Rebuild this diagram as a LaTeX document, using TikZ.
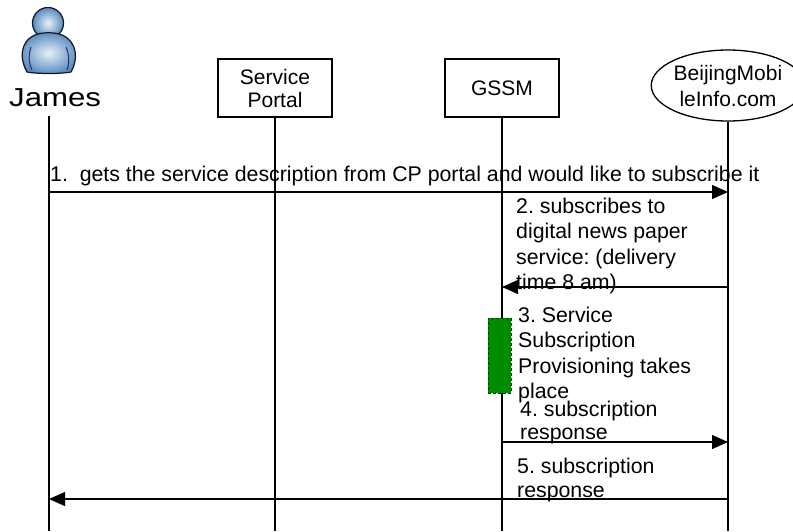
\documentclass[tikz,border=0pt]{standalone}
\usepackage{fontspec}
\setmainfont{Liberation Sans}
\usetikzlibrary{arrows.meta,shapes.geometric}
\frenchspacing
\definecolor{pblue}{RGB}{88,140,192}
\definecolor{phigh}{RGB}{232,240,245}
\definecolor{pline}{RGB}{20,20,40}
\definecolor{parm}{RGB}{50,40,110}
\definecolor{actgreen}{RGB}{0,140,0}
\definecolor{actedge}{RGB}{0,70,0}
\tikzset{
  life/.style={line width=1.3pt},
  msg/.style={line width=1.3pt,-{Triangle[length=16pt,width=14pt]}},
  lbl/.style={font=\fontsize{21.3}{25}\selectfont,anchor=base west,inner sep=0pt},
  actorbox/.style={draw,line width=1.3pt,minimum width=114pt,minimum height=58pt,align=center,inner sep=0pt,font=\fontsize{21}{23}\selectfont},
  actorell/.style={draw,ellipse,line width=1.3pt,minimum width=152pt,minimum height=71pt,align=center,inner sep=0pt,font=\fontsize{21}{26}\selectfont},
  person/.style={draw=pline,line width=1.2pt,inner color=phigh,outer color=pblue},
  activation/.style={draw=actedge,fill=actgreen,dash pattern=on 3pt off 2pt,line width=1pt,minimum width=23pt,minimum height=75pt,inner sep=0pt},
}
\begin{document}
\begin{tikzpicture}[x=1pt,y=-1pt]
\useasboundingbox (0,0) rectangle (793,531);
\clip (0,0) rectangle (793,531);
% person icon
\shadedraw[person] (48,23) circle[radius=15.5];
\shadedraw[person] (27,72) .. controls (20,60) and (19,42) .. (35,35)
  .. controls (42,32) and (55,32) .. (62,35)
  .. controls (78,42) and (78,60) .. (71,72)
  .. controls (60,74) and (38,74) .. (27,72) -- cycle;
\draw[parm,line width=1pt] (31,47) .. controls (28,56) and (29,64) .. (32,70);
\draw[parm,line width=1pt] (66,47) .. controls (70,56) and (69,64) .. (67,70);
\node[anchor=base west,inner sep=0pt] (james) at (9,106) {\scalebox{1.2}[1]{\fontsize{26}{28}\selectfont James}};
% actors
\node[actorbox] (sp) at (275,88) {Service\\Portal};
\node[actorbox] (gssm) at (502,88) {GSSM};
\node[actorell] (bj) at (728,85.5) {BeijingMobi\\leInfo.com};
% lifeline ends
\coordinate (jt) at (49,116);
\coordinate (jb) at (49,531);
\coordinate (spb) at (275,531);
\coordinate (gb) at (502,531);
\coordinate (bb) at (728,531);
\draw[life] (jt) -- (jb);
\draw[life] (sp.south) -- (spb);
\draw[life] (gssm.south) -- (gb);
\draw[life] (bj.south) -- (bb);
% message points
\coordinate (m1s) at (49,192);   \coordinate (m1e) at (728,192);
\coordinate (m2s) at (728,287);  \coordinate (m2e) at (502,287);
\coordinate (m4s) at (502,442);  \coordinate (m4e) at (728,442);
\coordinate (m5s) at (728,499);  \coordinate (m5e) at (49,499);
\draw[msg] (m1s) -- (m1e);
\draw[msg] (m2s) -- (m2e);
\draw[msg] (m4s) -- (m4e);
\draw[msg] (m5s) -- (m5e);
% activation
\node[activation] (act) at (499.5,355.5) {};
% labels
\node[lbl] (l1) at (50,181) {1.\ \ gets the service description from CP portal and would like to subscribe it};
\node[lbl] (l2a) at (516,213) {2. subscribes to};
\node[lbl] (l2b) at (516,238.5) {digital news paper};
\node[lbl] (l2c) at (516,264) {service: (delivery};
\node[lbl] (l2d) at (516,289.5) {time 8 am)};
\node[lbl] (l3a) at (518,322) {3. Service};
\node[lbl] (l3b) at (518,347) {Subscription};
\node[lbl] (l3c) at (518,373) {Provisioning takes};
\node[lbl] (l3d) at (518,398) {place};
\node[lbl] (l4a) at (520,416) {4. subscription};
\node[lbl] (l4b) at (520,439) {response};
\node[lbl] (l5a) at (517,473) {5. subscription};
\node[lbl] (l5b) at (517,497) {response};
\end{tikzpicture}
\end{document}
